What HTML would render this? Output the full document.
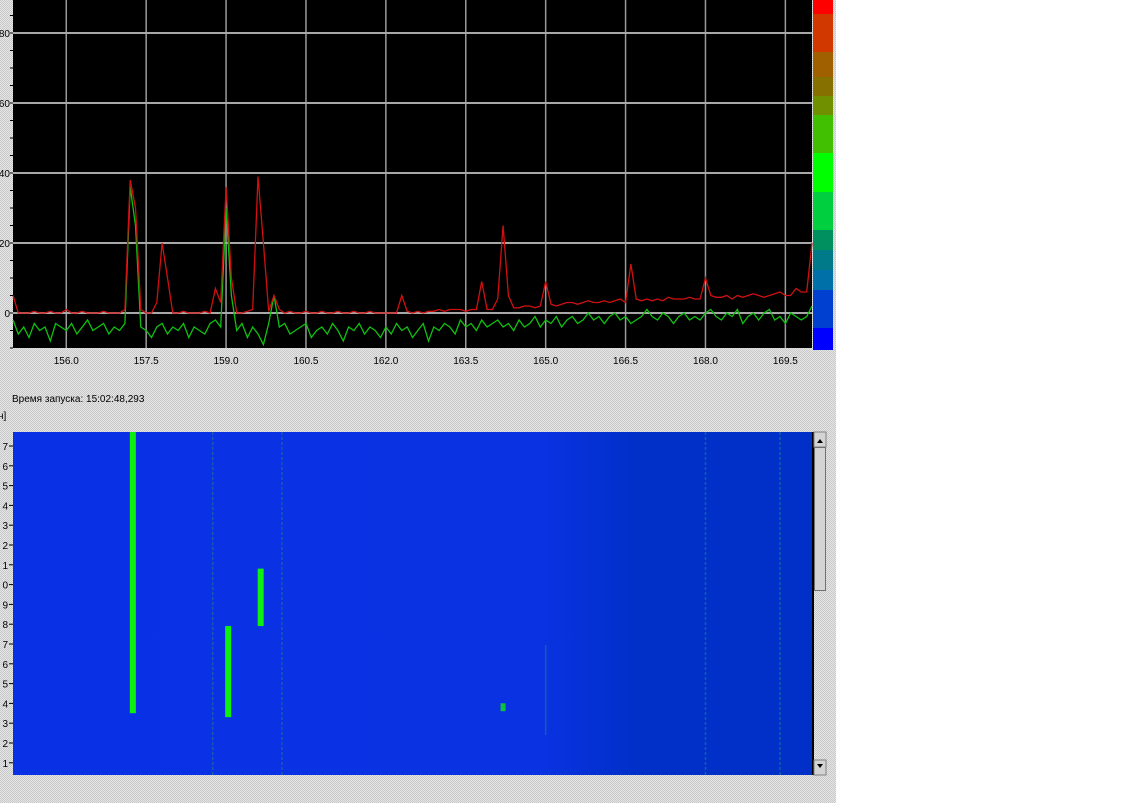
<!DOCTYPE html>
<html><head><meta charset="utf-8">
<style>
html,body{margin:0;padding:0;background:#fff;}
#root{position:relative;width:1130px;height:803px;overflow:hidden;font-family:"Liberation Sans",sans-serif;}
</style></head>
<body>
<div id="root">
<svg id="chart" width="1130" height="803" xmlns="http://www.w3.org/2000/svg">
<defs>
<pattern id="dither" width="2" height="2" patternUnits="userSpaceOnUse"><rect width="2" height="2" fill="#e6e6e6"/><rect width="1" height="1" fill="#c8c8c8"/><rect x="1" y="1" width="1" height="1" fill="#c8c8c8"/></pattern>
<linearGradient id="wfgrad" x1="0" x2="1" y1="0" y2="0">
<stop offset="0" stop-color="#0a30e6"/><stop offset="0.66" stop-color="#0a32e2"/><stop offset="0.78" stop-color="#0030c8"/><stop offset="1" stop-color="#0030c8"/></linearGradient>
</defs>
<rect x="0" y="0" width="836" height="803" fill="url(#dither)"/>
<rect x="13" y="0" width="799" height="348" fill="#000"/>
<g id="grid"></g>
<g id="yaxis"></g>
<g id="xaxis"></g>
<g id="traces"></g>
<g id="colorbar"></g>
<text x="12" y="402" font-size="10" fill="#000">Время запуска: 15:02:48,293</text>
<text x="-2" y="419" font-size="10" fill="#000">н]</text>
<rect x="13" y="432" width="799" height="343" fill="url(#wfgrad)"/>
<g id="waterfall"></g>
<g id="wfaxis"></g>
<rect x="812" y="432" width="2" height="343" fill="#000"/>
<rect x="814" y="432" width="12" height="343" fill="url(#dither)"/>
<rect x="814" y="432" width="12" height="15" fill="#d4d4d4" stroke="#808080" stroke-width="1"/>
<path d="M817 443 L820 439 L823 443 Z" fill="#000"/>
<rect x="814.5" y="447.5" width="11" height="143" fill="#d4d4d4" stroke="#707070"/>
<rect x="814" y="760" width="12" height="15" fill="#d4d4d4" stroke="#808080" stroke-width="1"/>
<path d="M817 764 L820 768 L823 764 Z" fill="#000"/>
</svg>
</div>
<script>
const xTicks=[156.0,157.5,159.0,160.5,162.0,163.5,165.0,166.5,168.0,169.5];
const yTicks=[0,20,40,60,80];
const redValues=[5,0,0,0,0.5,0,0,0.5,0,0,1,0,0,0.5,0,0,0,0.5,0,0,
0,1,38,30,1,0,0,3,20,10,
0,0,0.5,0,0,0,0.5,0,7,3,
36,10,0,0,0.5,1,39,20,0.5,5,
1,0,0.5,0,0,0.5,0,0,0.5,0,
0,0.5,0,0,0.5,0,0,0.5,0,0,
0,0,0,5,0.5,0,0.5,0,0.5,0.5,
1,0.5,1,1,1,0.5,1,1,9,1,
1,4,25,5,1.5,1.5,2,2,1.5,2,
9,2.5,2,2.5,3,3,2.5,3,3.5,3,
3,3.5,3,3.5,4,3,14,4,3.5,4,
3.5,4,3.5,4.5,4,4,4,4.5,4,4,
10,5,4.5,4.5,5,4,5,4.5,5,5.5,
5,4.5,5,5.5,6,5,5,7,6,6,20];
const greenValues=[-2,-6,-4,-7,-3,-5,-4,-8,-3,-4,-5,-3,-6,-4,-2,-5,-4,-3,-6,-4,
-5,-3,36,25,-4,-5,-7,-4,-3,-6,
-4,-5,-3,-7,-4,-5,-6,-3,-2,-4,
30,5,-5,-3,-7,-4,-6,-9,-3,5,
-4,-3,-6,-5,-4,-3,-7,-5,-4,-6,
-3,-5,-8,-4,-5,-3,-6,-4,-5,-7,
-4,-6,-3,-5,-4,-7,-5,-3,-8,-4,
-5,-3,-4,-6,-2,-4,-3,-5,-2,-4,
-3,-2,-4,-3,-5,-2,-4,-3,-1,-4,
-2,-3,-1,-4,-2,-1,-3,-2,0,-2,
-1,-3,-1,0,-2,-1,-3,-2,-1,1,
-1,-2,0,-1,-3,-1,0,-2,-1,-2,
0,1,-1,-2,0,-1,1,-3,-1,0,
-2,0,1,-2,-1,-3,0,-1,-2,-1,2];
const scaleColors=["#ff0000","#d03800","#a06000","#857000","#709000","#40c000","#00ff00","#00d040","#009060","#007a88","#0070a8","#0040d0","#0000ff"];
const scaleStops=[0,14,52,77,96,115,153,192,230,250,270,290,328,350];
const timeLabels=["7","6","5","4","3","2","1","0","9","8","7","6","5","4","3","2","1"];
const sigFreq=[157.25,159.04,159.65,164.2];
const sigStart=[0,9.8,6.9,13.7];
const sigEnd=[14.2,14.4,9.8,14.1];
const faintFreq=[158.75,160.05,168.0,169.4];
const faint2Freq=[165.0];

const NS="http://www.w3.org/2000/svg";
const X0=13,X1=812;
const fx=f=>X0+(f-155)/(170-155)*(X1-X0);
const fy=v=>313-v*3.5;
const wfTop=432,rowH=19.8;
const ty=r=>wfTop+r*rowH;
function mk(tag,attrs,parent){const e=document.createElementNS(NS,tag);for(const k in attrs)e.setAttribute(k,attrs[k]);parent.appendChild(e);return e;}
const grid=document.getElementById('grid'),yax=document.getElementById('yaxis'),xax=document.getElementById('xaxis');
xTicks.forEach(t=>{const l=mk('line',{x1:fx(t),x2:fx(t),y1:0,y2:348,stroke:'#9a9a9a','stroke-width':1.5},grid);

const tx=mk('text',{x:fx(t),y:364,'font-size':10,'text-anchor':'middle',fill:'#000'},xax);tx.textContent=t.toFixed(1);
});
yTicks.forEach(t=>{const l=mk('line',{x1:X0,x2:X1,y1:fy(t),y2:fy(t),stroke:'#a8a8a8','stroke-width':2},grid);

const tx=mk('text',{x:10,y:fy(t)+4,'font-size':10,'text-anchor':'end',fill:'#000'},yax);tx.textContent=t;
});
for(let v=-10;v<=88;v+=5){const m=mk('line',{x1:10,x2:13,y1:fy(v),y2:fy(v),stroke:'#000'},yax);
}
const tr=document.getElementById('traces');
function trace(vals,color,name){const pts=vals.map((v,i)=>fx(155+i*0.1).toFixed(1)+','+Math.min(348,fy(v)).toFixed(1)).join(' ');
const p=mk('polyline',{points:pts,fill:'none',stroke:color,'stroke-width':1.3},tr);
}
trace(greenValues,'#10c010','current-spectrum-line');
trace(redValues,'#d01010','max-hold-line');
const cb=document.getElementById('colorbar');
scaleColors.forEach((c,i)=>{const r=mk('rect',{x:813,y:scaleStops[i],width:20,height:scaleStops[i+1]-scaleStops[i],fill:c},cb);
});
const wf=document.getElementById('waterfall');
faintFreq.forEach(f=>{const l=mk('line',{x1:fx(f),x2:fx(f),y1:wfTop,y2:775,stroke:'#1a6aa0','stroke-width':1.5,'stroke-dasharray':'3 2',opacity:0.8},wf);
});
faint2Freq.forEach(f=>{const l=mk('line',{x1:fx(f),x2:fx(f),y1:645,y2:735,stroke:'#1a6aa0','stroke-width':1.5,opacity:0.8},wf);
});
sigFreq.forEach((f,i)=>{const w=i===3?5:6;const r=mk('rect',{x:fx(f)-w/2,y:ty(sigStart[i]),width:w,height:ty(sigEnd[i])-ty(sigStart[i]),fill:i===3?'#10c040':'#10f010'},wf);
});
const wa=document.getElementById('wfaxis');
timeLabels.forEach((t,i)=>{const y=446+i*19.8;const tx=mk('text',{x:8,y:y+4,'font-size':10,'text-anchor':'end',fill:'#000'},wa);tx.textContent=t;

const m=mk('line',{x1:9,x2:13,y1:y,y2:y,stroke:'#000'},wa);
});
</script>
</body></html>
